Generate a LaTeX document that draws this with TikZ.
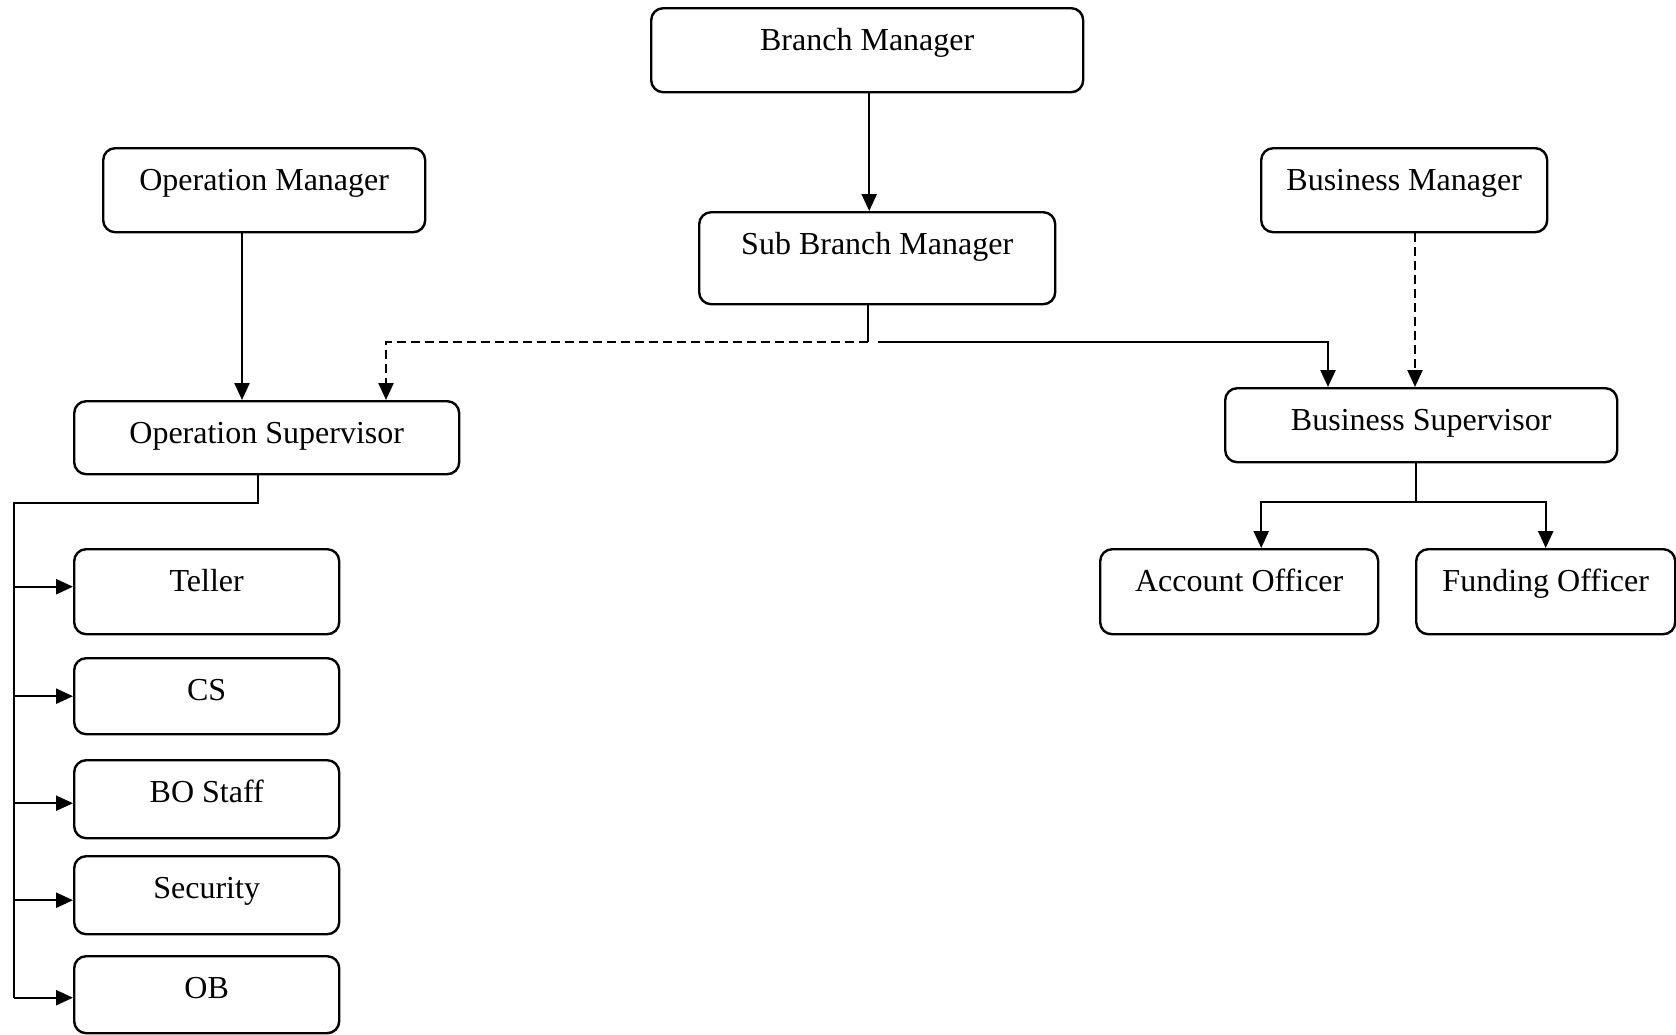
\documentclass[tikz,border=0pt]{standalone}
\usepackage{fontspec}
\setmainfont{Liberation Serif}
\usepackage{tikz}
\usetikzlibrary{arrows.meta}

\begin{document}
\begin{tikzpicture}[x=0.5pt, y=-0.5pt, line width=1.2pt,
  >={Triangle[length=8.5pt, width=7.5pt]},
  box/.style={draw, rounded corners=6pt, inner sep=0pt, anchor=north west,
    text height=21pt, font=\fontsize{16}{19}\selectfont},
  dashline/.style={dash pattern=on 4.5pt off 2.5pt}]
\useasboundingbox (0,0) rectangle (1676,1034);
% top level
\node[box, minimum width=216pt, text depth=21pt] (BM) at (650,7) {Branch Manager};
\node[box, minimum width=161pt, text depth=21pt] (OM) at (102,147) {Operation Manager};
\node[box, minimum width=178pt, text depth=25pt] (SBM) at (698,211) {Sub Branch Manager};
\node[box, minimum width=143pt, text depth=21pt] (BMG) at (1260,147) {Business Manager};
% supervisors
\node[box, minimum width=192.5pt, text depth=15.5pt] (OS) at (73,400) {Operation Supervisor};
\node[box, minimum width=196pt, text depth=16pt] (BS) at (1224,387) {Business Supervisor};
% staff
\node[box, minimum width=139pt, text depth=21.5pt] (AO) at (1099,548) {Account Officer};
\node[box, minimum width=129.5pt, text depth=21.5pt] (FO) at (1415,548) {Funding Officer};
\node[box, minimum width=132.5pt, text depth=21.5pt] (T) at (73,548) {Teller};
\node[box, minimum width=132.5pt, text depth=17pt] (CS) at (73,657) {CS};
\node[box, minimum width=132.5pt, text depth=18pt] (BO) at (73,759) {BO Staff};
\node[box, minimum width=132.5pt, text depth=18pt] (SE) at (73,855) {Security};
\node[box, minimum width=132.5pt, text depth=17.5pt] (OB) at (73,955) {OB};
% junction points
\coordinate (oj) at (242,0);
\coordinate (sj) at (868,342);
\coordinate (od) at (386,0);
\coordinate (bj) at (1328,0);
\coordinate (bd) at (1415,0);
\coordinate (bsj) at (1416,502);
\coordinate (osj) at (258,503);
\coordinate (sp) at (14,503);
% connectors
\draw [->] ([xshift=1pt]BM.south) -- ([xshift=1pt]BM.south |- SBM.north);
\draw [->] (OM.south -| oj) -- (OS.north -| oj);
\draw (SBM.south -| sj) -- (sj);
\draw [->, dashline] (sj) -| (OS.north -| od);
\draw [->] ([xshift=5pt]sj) -| (BS.north -| bj);
\draw [->, dashline] (BMG.south -| bd) -- (BS.north -| bd);
\draw (BS.south -| bsj) -- (bsj);
\draw [->] (bsj) -| ([xshift=11pt]AO.north);
\draw [->] (bsj) -| (FO.north);
\draw (OS.south -| osj) -- (osj) -- (sp) -- ([yshift=-1.5pt]sp |- OB.west);
\draw [->] ([yshift=2.5pt]sp |- T.west) -- ([yshift=2.5pt]T.west);
\draw [->] (sp |- CS.west) -- (CS.west);
\draw [->] ([yshift=-2pt]sp |- BO.west) -- ([yshift=-2pt]BO.west);
\draw [->] ([yshift=-2.5pt]sp |- SE.west) -- ([yshift=-2.5pt]SE.west);
\draw [->] ([yshift=-1.5pt]sp |- OB.west) -- ([yshift=-1.5pt]OB.west);
\end{tikzpicture}
\end{document}
